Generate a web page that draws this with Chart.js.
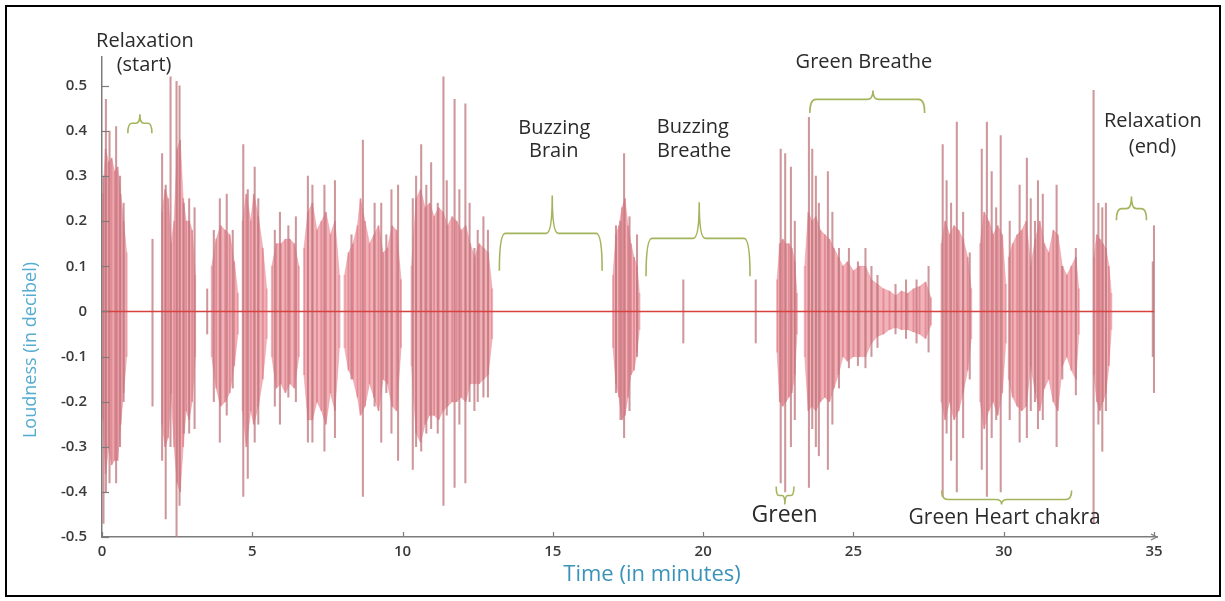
<!DOCTYPE html>
<html>
<head>
<meta charset="utf-8">
<title>Loudness over time</title>
<script src="https://cdn.jsdelivr.net/npm/chart.js@4.4.1/dist/chart.umd.min.js"></script>
<style>
  html, body { margin: 0; padding: 0; background: #fff; }
  #wrap { width: 1225px; height: 601px; }
</style>
</head>
<body>
<div id="wrap"><canvas id="loudnessChart" width="1225" height="601"></canvas></div>
<script>
// axis ticks
const timeTicks = [0, 5, 10, 15, 20, 25, 30, 35];
const loudnessTicks = [0.5, 0.4, 0.3, 0.2, 0.1, 0, -0.1, -0.2, -0.3, -0.4, -0.5];

// dense bursts of sound, one row per burst (minutes / upper edge / lower edge)
const burstTimes = [
  [0.03, 0.12, 0.22, 0.32, 0.42, 0.52, 0.62, 0.72, 0.82],
  [2.0, 2.1, 2.2, 2.3, 2.4, 2.5, 2.6, 2.7, 2.8, 2.9, 3.0, 3.1],
  [3.65, 3.8, 3.95, 4.1, 4.25, 4.4, 4.52],
  [4.68, 4.8, 4.95, 5.05, 5.2, 5.35, 5.48],
  [5.65, 5.8, 5.95, 6.1, 6.25, 6.4, 6.55],
  [6.72, 6.85, 7.0, 7.15, 7.3, 7.45, 7.6, 7.75, 7.9],
  [8.07, 8.2, 8.35, 8.5, 8.6, 8.75, 8.9, 9.05, 9.2, 9.35, 9.5, 9.65, 9.8, 9.95],
  [10.3, 10.45, 10.6, 10.75, 10.9, 11.05, 11.2, 11.35, 11.5, 11.65, 11.8, 11.95, 12.1, 12.25, 12.4, 12.55, 12.7, 12.85, 12.98],
  [17.0, 17.1, 17.2, 17.3, 17.4, 17.5, 17.6, 17.7, 17.8, 17.88],
  [22.46, 22.55, 22.65, 22.75, 22.85, 22.95, 23.05, 23.12],
  [23.38, 23.5, 23.62, 23.75, 23.9, 24.05, 24.2, 24.35, 24.5, 24.65, 24.8, 25.0, 25.2, 25.4, 25.6, 25.8, 26.0, 26.2, 26.4, 26.6, 26.8, 27.0, 27.2, 27.4, 27.58],
  [27.93, 28.05, 28.2, 28.35, 28.5, 28.65, 28.8, 28.92],
  [29.22, 29.35, 29.5, 29.65, 29.8, 29.95, 30.07],
  [30.17, 30.3, 30.45, 30.6, 30.75, 30.9, 31.05, 31.2, 31.35, 31.5, 31.65, 31.8, 31.95, 32.1, 32.25, 32.4, 32.5],
  [33.0, 33.1, 33.2, 33.3, 33.4, 33.5, 33.58]
];
const burstHighs = [
  [0.26, 0.36, 0.33, 0.34, 0.31, 0.32, 0.26, 0.2, 0.13],
  [0.22, 0.27, 0.25, 0.15, 0.2, 0.36, 0.38, 0.25, 0.2, 0.2, 0.18, 0.08],
  [0.1, 0.16, 0.19, 0.18, 0.17, 0.11, 0.04],
  [0.2, 0.26, 0.2, 0.26, 0.21, 0.14, 0.05],
  [0.1, 0.15, 0.15, 0.16, 0.16, 0.15, 0.1],
  [0.14, 0.22, 0.24, 0.18, 0.2, 0.22, 0.17, 0.2, 0.08],
  [0.08, 0.13, 0.15, 0.19, 0.25, 0.2, 0.15, 0.17, 0.19, 0.13, 0.14, 0.19, 0.18, 0.07],
  [0.1, 0.25, 0.27, 0.23, 0.24, 0.21, 0.23, 0.22, 0.19, 0.21, 0.2, 0.18, 0.19, 0.15, 0.12, 0.15, 0.14, 0.13, 0.05],
  [0.08, 0.17, 0.19, 0.23, 0.25, 0.19, 0.15, 0.12, 0.1, 0.04],
  [0.07, 0.15, 0.16, 0.15, 0.15, 0.14, 0.11, 0.04],
  [0.1, 0.22, 0.2, 0.21, 0.18, 0.17, 0.16, 0.14, 0.12, 0.1, 0.11, 0.09, 0.1, 0.1, 0.07, 0.06, 0.05, 0.045, 0.035, 0.045, 0.04, 0.05, 0.055, 0.065, 0.03],
  [0.15, 0.2, 0.17, 0.19, 0.18, 0.16, 0.12, 0.05],
  [0.15, 0.22, 0.2, 0.17, 0.19, 0.17, 0.06],
  [0.12, 0.15, 0.17, 0.18, 0.2, 0.1, 0.16, 0.2, 0.15, 0.13, 0.18, 0.17, 0.1, 0.08, 0.1, 0.12, 0.05],
  [0.12, 0.17, 0.16, 0.15, 0.14, 0.1, 0.04]
];
const burstLows = [
  [-0.24, -0.36, -0.3, -0.34, -0.33, -0.33, -0.25, -0.18, -0.1],
  [-0.25, -0.3, -0.28, -0.18, -0.3, -0.38, -0.4, -0.3, -0.22, -0.24, -0.2, -0.1],
  [-0.1, -0.17, -0.21, -0.2, -0.18, -0.12, -0.05],
  [-0.22, -0.3, -0.22, -0.25, -0.21, -0.15, -0.06],
  [-0.1, -0.17, -0.16, -0.18, -0.16, -0.17, -0.1],
  [-0.14, -0.24, -0.24, -0.2, -0.22, -0.25, -0.18, -0.22, -0.08],
  [-0.08, -0.13, -0.15, -0.19, -0.23, -0.21, -0.16, -0.19, -0.22, -0.15, -0.16, -0.21, -0.22, -0.08],
  [-0.12, -0.27, -0.29, -0.25, -0.23, -0.23, -0.24, -0.22, -0.21, -0.2, -0.2, -0.19, -0.2, -0.16, -0.16, -0.16, -0.15, -0.14, -0.06],
  [-0.08, -0.16, -0.19, -0.24, -0.23, -0.19, -0.14, -0.13, -0.09, -0.04],
  [-0.09, -0.2, -0.21, -0.2, -0.19, -0.18, -0.14, -0.05],
  [-0.1, -0.22, -0.21, -0.22, -0.2, -0.19, -0.2, -0.17, -0.14, -0.1, -0.11, -0.1, -0.1, -0.1, -0.07, -0.055, -0.05, -0.04, -0.035, -0.04, -0.04, -0.045, -0.05, -0.06, -0.03],
  [-0.2, -0.24, -0.2, -0.24, -0.22, -0.18, -0.13, -0.06],
  [-0.2, -0.26, -0.22, -0.2, -0.23, -0.18, -0.07],
  [-0.15, -0.19, -0.21, -0.22, -0.21, -0.12, -0.18, -0.22, -0.17, -0.15, -0.2, -0.22, -0.12, -0.1, -0.13, -0.15, -0.05],
  [-0.14, -0.2, -0.22, -0.2, -0.18, -0.12, -0.04]
];

// single peaks that stand out of the bursts
const peakTimes = [0.05, 0.13, 0.25, 0.47, 0.6, 0.72, 1.68, 2.0, 2.12, 2.28, 2.48, 2.58, 2.72, 2.9, 3.08, 3.5,
  3.72, 3.92, 4.15, 4.35, 4.7, 4.85, 5.08, 5.2, 5.75, 5.92, 6.2, 6.45, 6.85, 7.0, 7.4, 7.75,
  8.3, 8.68, 9.07, 9.29, 9.46, 9.63, 9.85, 10.34, 10.45, 10.62, 10.79, 10.95, 11.17, 11.36, 11.47, 11.73,
  11.89, 12.09, 12.23, 12.39, 12.5, 12.69, 12.84, 17.1, 17.25, 17.37, 17.55, 17.8, 19.34, 21.75,
  22.58, 22.73, 22.92, 23.05, 23.52, 23.63, 23.75, 23.85, 24.15, 24.3, 24.52, 24.85, 25.15, 25.4, 25.6, 25.8,
  26.4, 26.75, 27.1, 27.5, 27.97, 28.1, 28.25, 28.44, 28.65, 28.87, 29.27, 29.44, 29.6, 29.75, 29.9,
  30.2, 30.53, 30.77, 30.9, 31.04, 31.14, 31.3, 31.76, 31.95, 32.4, 32.99, 33.15, 33.28, 33.4, 34.96, 35.0];
const peakHighs = [0.3, 0.47, 0.4, 0.41, 0.3, 0.24, 0.16, 0.35, 0.28, 0.52, 0.51, 0.5, 0.24, 0.25, 0.23, 0.05,
  0.18, 0.25, 0.26, 0.18, 0.37, 0.27, 0.32, 0.25, 0.18, 0.22, 0.19, 0.21, 0.3, 0.28, 0.28, 0.29,
  0.17, 0.38, 0.24, 0.24, 0.17, 0.27, 0.28, 0.25, 0.3, 0.37, 0.28, 0.33, 0.24, 0.52, 0.29, 0.47,
  0.27, 0.46, 0.24, 0.14, 0.18, 0.21, 0.18, 0.19, 0.2, 0.35, 0.21, 0.17, 0.07, 0.07,
  0.36, 0.35, 0.32, 0.2, 0.43, 0.36, 0.3, 0.24, 0.31, 0.22, 0.14, 0.14, 0.11, 0.14, 0.1, 0.08,
  0.06, 0.07, 0.07, 0.1, 0.37, 0.29, 0.24, 0.42, 0.22, 0.13, 0.36, 0.42, 0.31, 0.23, 0.39,
  0.2, 0.28, 0.34, 0.25, 0.2, 0.29, 0.26, 0.28, 0.1, 0.14, 0.49, 0.24, 0.23, 0.24, 0.11, 0.19];
const peakLows = [-0.47, -0.4, -0.38, -0.38, -0.3, -0.2, -0.21, -0.33, -0.46, -0.3, -0.5, -0.43, -0.27, -0.27, -0.26, -0.05,
  -0.2, -0.29, -0.23, -0.17, -0.41, -0.37, -0.29, -0.25, -0.21, -0.25, -0.19, -0.2, -0.29, -0.29, -0.31, -0.28,
  -0.15, -0.41, -0.21, -0.29, -0.18, -0.27, -0.33, -0.35, -0.3, -0.31, -0.27, -0.26, -0.27, -0.43, -0.23, -0.39,
  -0.25, -0.38, -0.2, -0.22, -0.2, -0.19, -0.19, -0.18, -0.24, -0.28, -0.22, -0.1, -0.07, -0.07,
  -0.38, -0.4, -0.3, -0.24, -0.39, -0.26, -0.3, -0.32, -0.35, -0.25, -0.17, -0.125, -0.12, -0.125, -0.1, -0.08,
  -0.05, -0.06, -0.07, -0.09, -0.41, -0.27, -0.33, -0.4, -0.28, -0.15, -0.35, -0.41, -0.28, -0.24, -0.4,
  -0.24, -0.29, -0.28, -0.22, -0.2, -0.26, -0.24, -0.3, -0.15, -0.185, -0.47, -0.25, -0.31, -0.22, -0.1, -0.18];

// quiet trace running through the whole recording
const baseTimes = [0, 35];
const baseValues = [0, 0];

// section notes: text centred at (minutes, loudness)
const notes = [
  { text: 'Relaxation', t: 1.43, v: 0.598, size: 20 },
  { text: '(start)', t: 1.4, v: 0.546, size: 20 },
  { text: 'Buzzing', t: 15.05, v: 0.406, size: 20 },
  { text: 'Brain', t: 15.03, v: 0.355, size: 20 },
  { text: 'Buzzing', t: 19.66, v: 0.408, size: 20 },
  { text: 'Breathe', t: 19.7, v: 0.356, size: 20 },
  { text: 'Green Breathe', t: 25.35, v: 0.552, size: 20 },
  { text: 'Relaxation', t: 34.96, v: 0.422, size: 20 },
  { text: '(end)', t: 34.95, v: 0.364, size: 20 },
  { text: 'Green', t: 22.71, v: -0.452, size: 23 },
  { text: 'Green Heart chakra', t: 30.03, v: -0.459, size: 21 }
];

// curly braces marking each section
const braces = [
  { from: 0.86, to: 1.66, tip: 1.26, end: 0.395, bar: 0.417, point: 0.437 },
  { from: 13.22, to: 16.64, tip: 14.98, end: 0.09, bar: 0.173, point: 0.257 },
  { from: 18.1, to: 21.56, tip: 19.87, end: 0.078, bar: 0.162, point: 0.242 },
  { from: 23.55, to: 27.37, tip: 25.65, end: 0.44, bar: 0.47, point: 0.49 },
  { from: 33.75, to: 34.75, tip: 34.25, end: 0.202, bar: 0.228, point: 0.255 },
  { from: 22.43, to: 23.02, tip: 22.72, end: -0.388, bar: -0.408, point: -0.428 },
  { from: 27.94, to: 32.26, tip: 29.93, end: -0.397, bar: -0.417, point: -0.428 }
];

const FONT = '"Open Sans", "DejaVu Sans", sans-serif';

function edgePoints(values) {
  const pts = [];
  burstTimes.forEach((times, i) => {
    times.forEach((t, j) => pts.push({ x: t, y: values[i][j] }));
    pts.push({ x: times[times.length - 1] + 0.01, y: null });
  });
  return pts;
}

const streaks = [];
burstTimes.forEach((times, i) => {
  times.forEach((t, j) => streaks.push({ x: t, y: [burstLows[i][j], burstHighs[i][j]] }));
});
const peaks = peakTimes.map((t, i) => ({ x: t, y: [peakLows[i], peakHighs[i]] }));
const baseline = baseTimes.map((t, i) => ({ x: t, y: baseValues[i] }));

function drawBrace(ctx, x0, x1, xm, yEnd, yBar, yTip) {
  const r = Math.min(6, (x1 - x0) / 6);
  ctx.beginPath();
  ctx.moveTo(x0, yEnd);
  ctx.quadraticCurveTo(x0, yBar, x0 + r, yBar);
  ctx.lineTo(xm - r, yBar);
  ctx.quadraticCurveTo(xm, yBar, xm, yTip);
  ctx.quadraticCurveTo(xm, yBar, xm + r, yBar);
  ctx.lineTo(x1 - r, yBar);
  ctx.quadraticCurveTo(x1, yBar, x1, yEnd);
  ctx.stroke();
}

const sectionNotes = {
  id: 'sectionNotes',
  afterDraw(chart) {
    const { ctx, chartArea: area, scales: { x, y } } = chart;
    ctx.save();

    // small inward tick marks
    ctx.strokeStyle = '#7c7c7c';
    ctx.lineWidth = 1.2;
    loudnessTicks.forEach(v => {
      const py = Math.round(y.getPixelForValue(v)) + 0.5;
      ctx.beginPath();
      ctx.moveTo(area.left, py);
      ctx.lineTo(area.left + 7, py);
      ctx.stroke();
    });
    timeTicks.forEach(t => {
      const px = Math.round(x.getPixelForValue(t)) + 0.5;
      ctx.beginPath();
      ctx.moveTo(px, area.bottom);
      ctx.lineTo(px, area.bottom - 5);
      ctx.stroke();
    });
    // arrow head at the end of the time axis
    ctx.beginPath();
    ctx.moveTo(area.right - 6, area.bottom - 3);
    ctx.lineTo(area.right, area.bottom);
    ctx.lineTo(area.right - 6, area.bottom + 3);
    ctx.stroke();

    // braces
    ctx.strokeStyle = '#a3b55c';
    ctx.lineWidth = 1.6;
    braces.forEach(b => drawBrace(ctx,
      x.getPixelForValue(b.from), x.getPixelForValue(b.to), x.getPixelForValue(b.tip),
      y.getPixelForValue(b.end), y.getPixelForValue(b.bar), y.getPixelForValue(b.point)));

    // section names
    ctx.fillStyle = '#2b2b2b';
    ctx.textAlign = 'center';
    ctx.textBaseline = 'middle';
    notes.forEach(n => {
      ctx.font = n.size + 'px ' + FONT;
      ctx.fillText(n.text, x.getPixelForValue(n.t), y.getPixelForValue(n.v));
    });

    // axis titles
    ctx.font = '22px ' + FONT;
    ctx.fillStyle = '#3b93b8';
    ctx.fillText('Time (in minutes)', 652, 575);
    ctx.save();
    ctx.translate(31, 350);
    ctx.rotate(-Math.PI / 2);
    ctx.font = '18px ' + FONT;
    ctx.fillStyle = '#56acd0';
    ctx.fillText('Loudness (in decibel)', 0, 0);
    ctx.restore();

    // outer frame
    ctx.strokeStyle = '#000';
    ctx.lineWidth = 2;
    ctx.strokeRect(6, 6, 1214, 590);
    ctx.restore();
  }
};

new Chart(document.getElementById('loudnessChart'), {
  type: 'bar',
  data: {
    datasets: [
      {
        type: 'line', data: baseline, borderColor: '#d8423e', borderWidth: 1.6,
        pointRadius: 0, order: 1
      },
      {
        type: 'bar', data: peaks, backgroundColor: 'rgba(192, 122, 128, 0.78)',
        barThickness: 1.4, grouped: false, order: 2
      },
      {
        type: 'bar', data: streaks, backgroundColor: 'rgba(218, 100, 114, 0.5)',
        barThickness: 1.2, grouped: false, order: 3
      },
      {
        type: 'line', data: edgePoints(burstHighs), fill: 'origin', spanGaps: false,
        borderColor: 'rgba(232, 140, 150, 0.6)', borderWidth: 0.8,
        backgroundColor: 'rgba(232, 132, 142, 0.62)', pointRadius: 0, tension: 0, order: 4
      },
      {
        type: 'line', data: edgePoints(burstLows), fill: 'origin', spanGaps: false,
        borderColor: 'rgba(232, 140, 150, 0.6)', borderWidth: 0.8,
        backgroundColor: 'rgba(232, 132, 142, 0.62)', pointRadius: 0, tension: 0, order: 4
      }
    ]
  },
  options: {
    responsive: false,
    animation: false,
    layout: { padding: { top: 57, right: 68, left: 0, bottom: 0 } },
    plugins: { legend: { display: false }, tooltip: { enabled: false } },
    scales: {
      x: {
        type: 'linear', min: 0, max: 35.1, offset: false,
        grid: { display: false, drawTicks: false },
        border: { color: '#7c7c7c', width: 1.5 },
        afterBuildTicks: s => { s.ticks = timeTicks.map(v => ({ value: v })); },
        afterFit: s => { s.height = 64; },
        ticks: {
          autoSkip: false, maxRotation: 0, padding: 6, color: '#3a3a3a',
          font: { family: FONT, size: 15, weight: '600' },
          callback: v => String(v)
        }
      },
      y: {
        min: -0.5, max: 0.564,
        grid: { display: false, drawTicks: false },
        border: { color: '#7c7c7c', width: 1.5 },
        afterBuildTicks: s => { s.ticks = loudnessTicks.map(v => ({ value: v })); },
        afterFit: s => { s.width = 102; },
        ticks: {
          autoSkip: false, padding: 15, color: '#3a3a3a',
          font: { family: FONT, size: 15, weight: '600' },
          callback: v => (v === 0 ? '0' : v.toFixed(1))
        }
      }
    }
  },
  plugins: [sectionNotes]
});
</script>
</body>
</html>
